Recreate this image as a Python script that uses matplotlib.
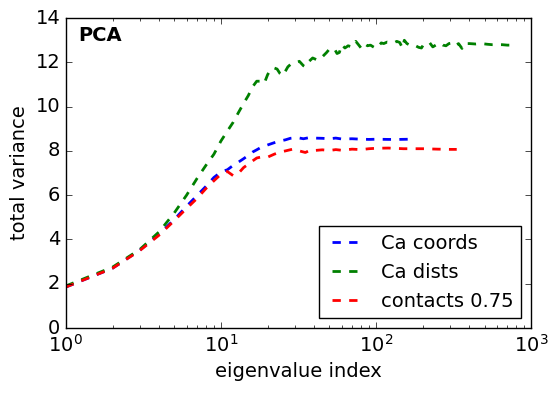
import matplotlib
matplotlib.use("Agg")
import matplotlib.pyplot as plt

plt.style.use("classic")

# --- data ---
coords_idx = [1, 2, 3, 4, 5, 6, 7, 8, 9, 10, 11, 12, 13, 14, 15, 16, 17, 18, 20, 22,
              24, 26, 28, 31, 34, 37, 40, 45, 50, 55, 60, 70, 80, 90, 100, 120, 140, 166]
coords_var = [1.85, 2.7, 3.52, 4.25, 4.9, 5.5, 5.98, 6.4, 6.8, 7.05, 7.15, 7.35, 7.5, 7.65, 7.8, 7.95, 8.05, 8.15, 8.27, 8.37,
              8.45, 8.5, 8.57, 8.6, 8.55, 8.6, 8.58, 8.57, 8.55, 8.58, 8.54, 8.55, 8.53, 8.52, 8.53, 8.52, 8.52, 8.53]

dists_idx = [1, 2, 3, 4, 5, 6, 7, 8, 9, 10, 11, 12, 13, 14, 15, 16, 17, 18, 19, 20,
             21, 22, 23, 24, 25, 26, 27, 28, 30, 32, 34, 35, 37, 39, 42, 45, 48, 50, 52, 54,
             56, 58, 60, 63, 66, 70, 74, 77, 80, 84, 88, 92, 96, 100, 104, 108, 112, 118, 124, 130,
             136, 142, 148, 152, 158, 165, 172, 180, 188, 196, 204, 212, 222, 232, 245, 258, 270, 282, 295, 310,
             325, 340, 358, 370, 400, 440, 480, 520, 560, 600, 650, 700, 750, 790]
dists_var = [1.9, 2.75, 3.55, 4.35, 5.2, 6.0, 6.75, 7.35, 7.85, 8.45, 8.9, 9.3, 9.75, 10.15, 10.5, 10.9, 11.15, 11.15, 11.05, 11.45,
             11.7, 11.75, 11.7, 11.5, 11.4, 11.6, 11.8, 11.9, 11.95, 12.05, 11.85, 11.8, 12.05, 12.2, 12.1, 12.25, 12.45, 12.6, 12.55, 12.6,
             12.4, 12.45, 12.8, 12.65, 12.75, 12.7, 12.95, 12.8, 12.65, 12.85, 12.75, 12.78, 12.7, 12.63, 12.75, 12.88, 12.85, 12.92, 12.9, 12.88,
             12.95, 12.9, 12.65, 13.0, 12.85, 12.78, 12.72, 12.75, 12.68, 12.65, 12.85, 12.9, 12.88, 12.7, 12.8, 12.88, 12.78, 12.75, 12.85, 12.88,
             12.75, 12.85, 12.63, 12.85, 12.85, 12.83, 12.85, 12.82, 12.8, 12.8, 12.8, 12.78, 12.78, 12.78]

contacts_idx = [1, 2, 3, 4, 5, 6, 7, 8, 9, 10, 11, 12, 13, 14, 15, 16, 17, 18, 20, 22,
                24, 26, 29, 32, 35, 38, 40, 45, 50, 55, 60, 70, 80, 90, 100, 120, 150, 200, 250, 300, 331]
contacts_var = [1.85, 2.7, 3.5, 4.2, 4.85, 5.4, 5.85, 6.3, 6.65, 6.95, 7.07, 6.88, 7.0, 7.25, 7.4, 7.55, 7.68, 7.72, 7.72, 7.85,
                7.95, 8.0, 8.08, 8.0, 7.93, 8.05, 8.02, 8.05, 8.02, 8.06, 8.03, 8.08, 8.06, 8.1, 8.12, 8.13, 8.1, 8.1, 8.08, 8.07, 8.07]

labels = ["Ca coords", "Ca dists", "contacts 0.75"]
colors = ["b", "g", "r"]

fig = plt.figure(figsize=(5.58, 3.94), dpi=100, facecolor="white")
ax = fig.add_axes([0.118, 0.1675, 0.834, 0.7865])
ax.set_facecolor("white")

for xs, ys, lab, c in zip([coords_idx, dists_idx, contacts_idx],
                          [coords_var, dists_var, contacts_var], labels, colors):
    ax.plot(xs, ys, "--", color=c, lw=2, label=lab)

ax.set_xscale("log")
ax.set_xlim(1, 1000)
ax.set_ylim(0, 14)
ax.set_xlabel("eigenvalue index", fontsize=14)
ax.set_ylabel("total variance", fontsize=14)
ax.tick_params(labelsize=14)
ax.text(0.027, 0.975, "PCA", transform=ax.transAxes, ha="left", va="top",
        fontsize=14, fontweight="bold")
leg = ax.legend(loc="lower right", fontsize=14)
leg.get_frame().set_edgecolor("black")

fig.savefig("out.png", dpi=100, facecolor="white")
